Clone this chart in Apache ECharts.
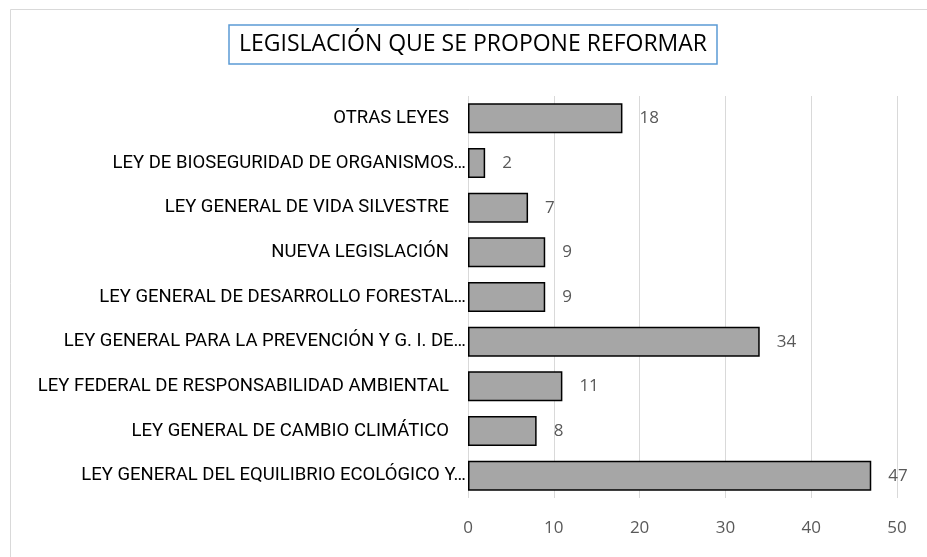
<!DOCTYPE html>
<html>
<head>
<meta charset="utf-8">
<script src="https://cdn.jsdelivr.net/npm/echarts@6/dist/echarts.min.js"></script>
<style>
  html, body { margin: 0; padding: 0; background: #fff; }
  #chart { width: 927px; height: 557px; }
</style>
</head>
<body>
<div id="chart"></div>
<script>
// categorias de abajo hacia arriba (orden de Excel)
const categories = [
  'LEY GENERAL DEL EQUILIBRIO ECOLÓGICO Y…',
  'LEY GENERAL DE CAMBIO CLIMÁTICO',
  'LEY FEDERAL DE RESPONSABILIDAD AMBIENTAL',
  'LEY GENERAL PARA LA PREVENCIÓN Y G. I. DE…',
  'LEY GENERAL DE DESARROLLO FORESTAL…',
  'NUEVA LEGISLACIÓN',
  'LEY GENERAL DE VIDA SILVESTRE',
  'LEY DE BIOSEGURIDAD DE ORGANISMOS…',
  'OTRAS LEYES'
]
const values = [47, 8, 11, 34, 9, 9, 7, 2, 18]
const titleText = 'LEGISLACIÓN QUE SE PROPONE REFORMAR'

const myChart = echarts.init(document.getElementById('chart'))
const option = {
  animation: false,
  backgroundColor: '#fff',
  graphic: [
    {
      type: 'rect',
      shape: { x: 10.5, y: 9.5, width: 930, height: 560 },
      style: { fill: 'none', stroke: '#d9d9d9', lineWidth: 1 },
      silent: true
    }
  ],
  title: {
    text: titleText,
    left: 229,
    top: 25,
    padding: [8, 10, 8, 10],
    borderColor: '#5b9bd5',
    borderWidth: 1.5,
    textStyle: {
      fontFamily: 'Open Sans',
      fontWeight: 'normal',
      fontSize: 23,
      color: '#000'
    }
  },
  grid: {
    left: 468,
    right: 30,
    top: 96,
    bottom: 59,
    containLabel: false
  },
  xAxis: {
    type: 'value',
    min: 0,
    max: 50,
    interval: 10,
    axisLine: { show: false },
    axisTick: { show: false },
    splitLine: { lineStyle: { color: '#d9d9d9', width: 1 } },
    axisLabel: {
      color: '#595959',
      fontFamily: 'Open Sans',
      fontSize: 17,
      margin: 22
    }
  },
  yAxis: {
    type: 'category',
    data: categories,
    axisLine: { show: false },
    axisTick: { show: false },
    axisLabel: {
      color: '#000',
      fontFamily: 'Roboto',
      fontSize: 18.5,
      margin: 2,
      // las etiquetas recortadas llegan casi hasta la barra
      formatter: (v) => v.endsWith('…') ? v : v + '{s|}',
      rich: {
        s: { width: 17 }
      }
    }
  },
  series: [
    {
      type: 'bar',
      data: values,
      barWidth: 30,
      itemStyle: {
        color: '#a6a6a6',
        borderColor: '#000',
        borderWidth: 1.5
      },
      label: {
        show: true,
        position: 'right',
        distance: 17,
        color: '#595959',
        fontFamily: 'Open Sans',
        fontSize: 17
      }
    }
  ]
}

option && myChart.setOption(option)
</script>
</body>
</html>
